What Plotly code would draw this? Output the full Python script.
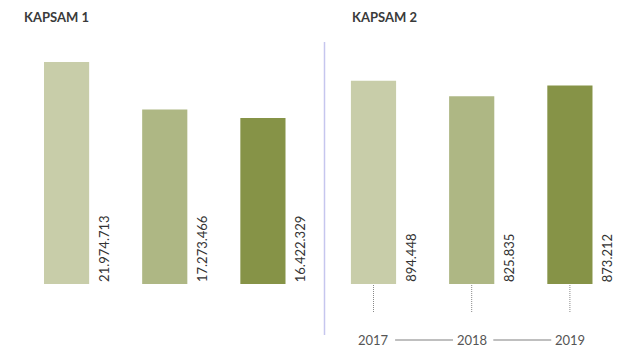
import plotly.graph_objects as go

OFF = 8  # page body margin
W, H = 636 - OFF, 363 - OFF

years = ["2017", "2018", "2019"]
kapsam1 = [21974713, 17273466, 16422329]
kapsam2 = [894448, 825835, 873212]
colors = ["#c8cda9", "#aeb784", "#869347"]

def fmt(v):
    return f"{v:,}".replace(",", ".")

def px_x(p):
    return (p - OFF) / W

def px_y(p):
    return (H - (p - OFF)) / H

fig = go.Figure()
fig.add_trace(go.Bar(x=years, y=kapsam1, marker=dict(color=colors, line=dict(width=0)),
                     width=0.46, xaxis="x", yaxis="y", hoverinfo="skip"))
fig.add_trace(go.Bar(x=years, y=kapsam2, marker=dict(color=colors, line=dict(width=0)),
                     width=0.46, xaxis="x2", yaxis="y2", hoverinfo="skip"))

ybot, ytop = 284, 40
plot_h = ybot - ytop
ann = []
shapes = []
font = "Lato, 'Open Sans', sans-serif"
for i, y in enumerate(years):
    ann.append(dict(x=i + 0.38, y=0, xref="x", yref="y", text=fmt(kapsam1[i]),
                    textangle=-90, xanchor="center", yanchor="bottom", showarrow=False,
                    font=dict(family=font, size=13, color="#333333")))
    ann.append(dict(x=i + 0.38, y=0, xref="x2", yref="y2", text=fmt(kapsam2[i]),
                    textangle=-90, xanchor="center", yanchor="bottom", showarrow=False,
                    font=dict(family=font, size=13, color="#333333")))
    ann.append(dict(x=i, y=px_y(340), xref="x2", yref="paper", text=y,
                    xanchor="center", yanchor="middle", showarrow=False,
                    font=dict(family=font, size=13, color="#555555")))
    shapes.append(dict(type="line", xref="x2", yref="paper", x0=i, x1=i,
                       y0=px_y(285), y1=px_y(313),
                       line=dict(color="#888888", width=1, dash="1px,1px")))

# connector lines between year labels
for i in range(2):
    shapes.append(dict(type="line", xref="x2", yref="paper", x0=i + 0.22, x1=i + 0.81,
                       y0=px_y(340), y1=px_y(340), line=dict(color="#aaaaaa", width=1.3)))

# divider
shapes.append(dict(type="line", xref="paper", yref="paper", x0=px_x(324.5), x1=px_x(324.5),
                   y0=px_y(42), y1=px_y(335), line=dict(color="#c6c6ee", width=1.5)))

ann.append(dict(x=px_x(22), y=px_y(17), xref="paper", yref="paper", text="<b>KAPSAM 1</b>",
                xanchor="left", yanchor="middle", showarrow=False,
                font=dict(family=font, size=13, color="#3a3a3a")))
ann.append(dict(x=px_x(350), y=px_y(17), xref="paper", yref="paper", text="<b>KAPSAM 2</b>",
                xanchor="left", yanchor="middle", showarrow=False,
                font=dict(family=font, size=13, color="#3a3a3a")))

fig.update_layout(
    width=W, height=H, margin=dict(l=0, r=0, t=0, b=0),
    paper_bgcolor="white", plot_bgcolor="white", showlegend=False,
    xaxis=dict(domain=[px_x(17.5), px_x(312)], type="category", range=[-0.5, 2.5], visible=False),
    xaxis2=dict(domain=[px_x(324.4), px_x(619)], type="category", range=[-0.5, 2.5], visible=False),
    yaxis=dict(domain=[px_y(ybot), px_y(ytop)], range=[0, plot_h * 99000], visible=False),
    yaxis2=dict(domain=[px_y(ybot), px_y(ytop)], range=[0, plot_h * 4400], visible=False, anchor="x2"),
    annotations=ann, shapes=shapes,
)
fig.write_html("out.html")
